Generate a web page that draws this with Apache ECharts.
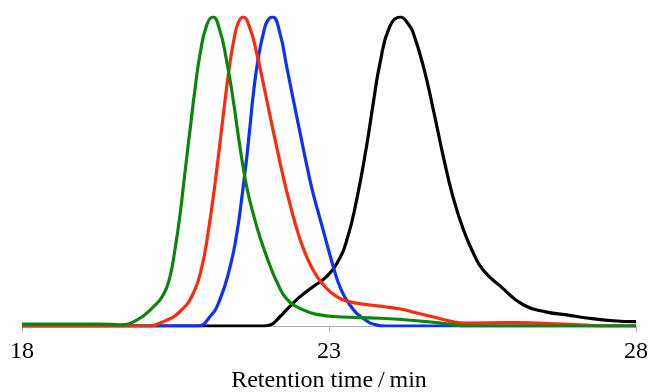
<!DOCTYPE html>
<html>
<head>
<meta charset="utf-8">
<script src="https://cdn.jsdelivr.net/npm/echarts@6/dist/echarts.min.js"></script>
<style>
  html, body { margin: 0; padding: 0; background: #fff; }
  #chart { width: 648px; height: 392px; }
</style>
</head>
<body>
<div id="chart"></div>
<script>
// Retention time axis (min) and tick labels
const xTicks = [18, 23, 28];

// Normalised detector response for each trace: [time, intensity]
const blackTrace = [
  [18.00, 0], [21.93, 0], [22.04, 0.003], [22.20, 0.030], [22.36, 0.063],
  [22.53, 0.095], [22.74, 0.127], [22.96, 0.160], [23.13, 0.203], [23.29, 0.278],
  [23.45, 0.408], [23.61, 0.580], [23.72, 0.720], [23.83, 0.850], [23.99, 0.970],
  [24.16, 1.0], [24.30, 0.975], [24.37, 0.950], [24.54, 0.838], [24.70, 0.699],
  [24.86, 0.550], [25.02, 0.417], [25.19, 0.311], [25.35, 0.236], [25.51, 0.181],
  [25.79, 0.129], [26.17, 0.068], [26.55, 0.045], [26.87, 0.036], [27.20, 0.026],
  [27.63, 0.017], [28.00, 0.014]
];

const blueTrace = [
  [18.00, 0], [20.85, 0], [21.06, 0.030], [21.22, 0.084], [21.39, 0.192],
  [21.50, 0.301], [21.58, 0.415], [21.66, 0.545], [21.71, 0.640], [21.77, 0.755],
  [21.85, 0.870], [21.94, 0.955], [22.00, 0.988], [22.08, 1.0], [22.20, 0.948],
  [22.31, 0.840], [22.42, 0.731], [22.53, 0.624], [22.64, 0.518], [22.74, 0.430],
  [22.85, 0.350], [22.96, 0.270], [23.07, 0.192], [23.18, 0.126], [23.34, 0.068],
  [23.56, 0.024], [23.78, 0.003], [23.91, 0], [28.00, 0]
];

const redTrace = [
  [18.00, 0], [20.03, 0], [20.30, 0.014], [20.57, 0.046], [20.79, 0.106],
  [20.93, 0.192], [21.03, 0.301], [21.14, 0.455], [21.22, 0.585], [21.31, 0.735],
  [21.39, 0.855], [21.47, 0.945], [21.53, 0.985], [21.60, 1.0], [21.71, 0.965],
  [21.82, 0.885], [21.93, 0.785], [22.04, 0.680], [22.15, 0.577], [22.26, 0.478],
  [22.37, 0.390], [22.47, 0.318], [22.58, 0.252], [22.74, 0.181], [22.91, 0.133],
  [23.13, 0.094], [23.34, 0.078], [23.67, 0.068], [23.88, 0.063], [24.16, 0.055],
  [24.43, 0.042], [24.70, 0.029], [24.97, 0.016], [25.19, 0.009], [26.00, 0.011],
  [26.82, 0.006], [27.63, 0], [28.00, 0]
];

const greenTrace = [
  [18.00, 0.006], [19.27, 0.006], [19.60, 0.004], [19.87, 0.019], [20.14, 0.062],
  [20.30, 0.100], [20.41, 0.160], [20.49, 0.246], [20.57, 0.354], [20.65, 0.490],
  [20.74, 0.640], [20.82, 0.770], [20.90, 0.880], [21.01, 0.975], [21.11, 1.0],
  [21.22, 0.958], [21.33, 0.861], [21.44, 0.731], [21.55, 0.579], [21.66, 0.450],
  [21.77, 0.360], [21.88, 0.285], [22.04, 0.195], [22.15, 0.143], [22.31, 0.088],
  [22.58, 0.052], [22.85, 0.036], [23.13, 0.030], [23.83, 0.025], [24.43, 0.017],
  [24.97, 0.006], [25.22, 0], [28.00, 0]
];

const chart = echarts.init(document.getElementById('chart'), null, { renderer: 'canvas' });

function trace(data, color) {
  return {
    type: 'line',
    data: data,
    showSymbol: false,
    smooth: 0.5,
    lineStyle: { color: color, width: 3.2 },
    itemStyle: { color: color },
    animation: false
  };
}

const serif = 'Liberation Serif';

chart.setOption({
  backgroundColor: '#fff',
  animation: false,
  grid: { left: 22, right: 12, top: 17, bottom: 66, containLabel: false, outerBoundsMode: 'none' },
  xAxis: {
    type: 'value',
    min: xTicks[0],
    max: xTicks[xTicks.length - 1],
    interval: xTicks[1] - xTicks[0],
    name: 'Retention time\u2009/\u2009min',
    nameLocation: 'middle',
    nameGap: 42,
    nameTextStyle: { fontFamily: serif, fontSize: 24, color: '#000' },
    axisLine: { show: true, lineStyle: { color: '#b3b3b3', width: 1 } },
    axisTick: { show: true, length: 6, lineStyle: { color: '#b3b3b3' } },
    axisLabel: { fontFamily: serif, fontSize: 24, color: '#000', margin: 14 },
    splitLine: { show: false }
  },
  yAxis: {
    type: 'value',
    min: 0,
    max: 1,
    show: false,
    splitLine: { show: false }
  },
  series: [
    trace(blackTrace, '#000000'),
    trace(blueTrace, '#0a32ff'),
    trace(redTrace, '#ff2a0a'),
    trace(greenTrace, '#0a870a')
  ]
});
</script>
</body>
</html>
